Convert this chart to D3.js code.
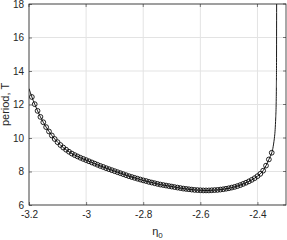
<!DOCTYPE html>
<html>
<head>
<meta charset="utf-8">
<script src="https://cdn.jsdelivr.net/npm/d3@7"></script>
<style>
  html, body { margin: 0; padding: 0; background: #fff; }
  svg { display: block; font-family: "Liberation Sans", Arial, sans-serif; }
</style>
</head>
<body>
<svg id="chart" width="287" height="240"></svg>
<script>
// ---- data ----
const etaMarkers = [
  -3.19, -3.18, -3.17, -3.16, -3.15, -3.14, -3.13, -3.12, -3.11, -3.10,
  -3.09, -3.08, -3.07, -3.06, -3.05, -3.04, -3.03, -3.02, -3.01, -3.00,
  -2.99, -2.98, -2.97, -2.96, -2.95, -2.94, -2.93, -2.92, -2.91, -2.90,
  -2.89, -2.88, -2.87, -2.86, -2.85, -2.84, -2.83, -2.82, -2.81, -2.80,
  -2.79, -2.78, -2.77, -2.76, -2.75, -2.74, -2.73, -2.72, -2.71, -2.70,
  -2.69, -2.68, -2.67, -2.66, -2.65, -2.64, -2.63, -2.62, -2.61, -2.60,
  -2.59, -2.58, -2.57, -2.56, -2.55, -2.54, -2.53, -2.52, -2.51, -2.50,
  -2.49, -2.48, -2.47, -2.46, -2.45, -2.44, -2.43, -2.42, -2.41, -2.40,
  -2.39, -2.38, -2.37, -2.36, -2.35
];
const periodMarkers = [
  12.45, 12.02, 11.62, 11.26, 10.94, 10.65, 10.39, 10.15, 9.94, 9.75,
  9.58, 9.43, 9.30, 9.18, 9.07, 8.98, 8.90, 8.82, 8.75, 8.68,
  8.61, 8.54, 8.47, 8.40, 8.33, 8.27, 8.20, 8.14, 8.08, 8.02,
  7.96, 7.90, 7.84, 7.78, 7.72, 7.67, 7.62, 7.57, 7.52, 7.47,
  7.43, 7.38, 7.34, 7.30, 7.26, 7.22, 7.19, 7.16, 7.13, 7.10,
  7.07, 7.04, 7.01, 6.98, 6.96, 6.94, 6.92, 6.90, 6.89, 6.88,
  6.87, 6.87, 6.87, 6.88, 6.89, 6.90, 6.92, 6.94, 6.97, 7.00,
  7.04, 7.08, 7.13, 7.19, 7.26, 7.33, 7.41, 7.50, 7.60, 7.72,
  7.86, 8.05, 8.35, 8.72, 9.12
];
// line-only extensions beyond the marked points
const etaLineStart = [-3.20];
const periodLineStart = [12.95];
const etaLineTail = [-2.347, -2.343, -2.340, -2.338, -2.336, -2.3345, -2.3337, -2.3332, -2.3328];
const periodLineTail = [9.30, 9.70, 10.10, 10.50, 11.20, 12.00, 13.00, 14.50, 18.00];

const xTicks = [-3.2, -3, -2.8, -2.6, -2.4];
const yTicks = [6, 8, 10, 12, 14, 16, 18];
const xDomain = [-3.2, -2.3];
const yDomain = [6, 18];

// ---- layout ----
const svg = d3.select("#chart");
const L = 29, R = 286, T = 4, B = 205;

const x = d3.scaleLinear().domain(xDomain).range([L, R]);
const y = d3.scaleLinear().domain(yDomain).range([B, T]);

// grid
const grid = svg.append("g");
grid.selectAll("line.gx").data(xTicks).join("line")
  .attr("x1", d => x(d)).attr("x2", d => x(d))
  .attr("y1", T).attr("y2", B)
  .attr("stroke", "#e3e3e3").attr("stroke-width", 1);
grid.selectAll("line.gy").data(yTicks).join("line")
  .attr("y1", d => y(d)).attr("y2", d => y(d))
  .attr("x1", L).attr("x2", R)
  .attr("stroke", "#e3e3e3").attr("stroke-width", 1);

// clip
svg.append("clipPath").attr("id", "clip")
  .append("rect").attr("x", L).attr("y", T).attr("width", R - L).attr("height", B - T);

const lineData = [];
etaLineStart.forEach((e, i) => lineData.push([e, periodLineStart[i]]));
etaMarkers.forEach((e, i) => lineData.push([e, periodMarkers[i]]));
etaLineTail.forEach((e, i) => lineData.push([e, periodLineTail[i]]));

const plot = svg.append("g").attr("clip-path", "url(#clip)");
plot.append("path")
  .datum(lineData)
  .attr("d", d3.line().x(d => x(d[0])).y(d => y(d[1])).curve(d3.curveMonotoneX))
  .attr("fill", "none").attr("stroke", "#000").attr("stroke-width", 0.9);

plot.selectAll("circle").data(etaMarkers).join("circle")
  .attr("cx", d => x(d))
  .attr("cy", (d, i) => y(periodMarkers[i]))
  .attr("r", 2.4)
  .attr("fill", "none").attr("stroke", "#000").attr("stroke-width", 0.85);

// axes
const axisColor = "#262626";
const xAxis = svg.append("g").attr("transform", `translate(0,${B})`)
  .call(d3.axisBottom(x).tickValues(xTicks).tickSize(-3).tickPadding(6).tickFormat(d3.format("")));
const yAxis = svg.append("g").attr("transform", `translate(${L},0)`)
  .call(d3.axisLeft(y).tickValues(yTicks).tickSize(-3).tickPadding(5).tickFormat(d3.format("")));
[xAxis, yAxis].forEach(g => {
  g.select(".domain").remove();
  g.selectAll(".tick line").attr("stroke", axisColor).attr("stroke-width", 0.6);
  g.selectAll(".tick text").attr("fill", axisColor).style("font-size", "10px")
    .style("font-family", "'Liberation Sans', Arial, sans-serif");
});
xAxis.selectAll(".tick text").text(d => String(d));

// top/right ticks
svg.append("g").selectAll("line").data(xTicks).join("line")
  .attr("x1", d => x(d)).attr("x2", d => x(d)).attr("y1", T).attr("y2", T + 3)
  .attr("stroke", axisColor).attr("stroke-width", 0.6);
svg.append("g").selectAll("line").data(yTicks).join("line")
  .attr("y1", d => y(d)).attr("y2", d => y(d)).attr("x1", R).attr("x2", R - 3)
  .attr("stroke", axisColor).attr("stroke-width", 0.6);

// box
svg.append("rect").attr("x", L).attr("y", T).attr("width", R - L).attr("height", B - T)
  .attr("fill", "none").attr("stroke", axisColor).attr("stroke-width", 0.8);

// labels
const xl = svg.append("text")
  .attr("x", (L + R) / 2).attr("y", 235)
  .attr("text-anchor", "middle").attr("fill", axisColor)
  .style("font-size", "11px");
xl.append("tspan").text("η");
xl.append("tspan").attr("dy", 3).style("font-size", "8px").text("0");

svg.append("text")
  .attr("transform", `translate(9,${(T + B) / 2}) rotate(-90)`)
  .attr("text-anchor", "middle").attr("fill", axisColor)
  .style("font-size", "11px")
  .text("period, T");
</script>
</body>
</html>
